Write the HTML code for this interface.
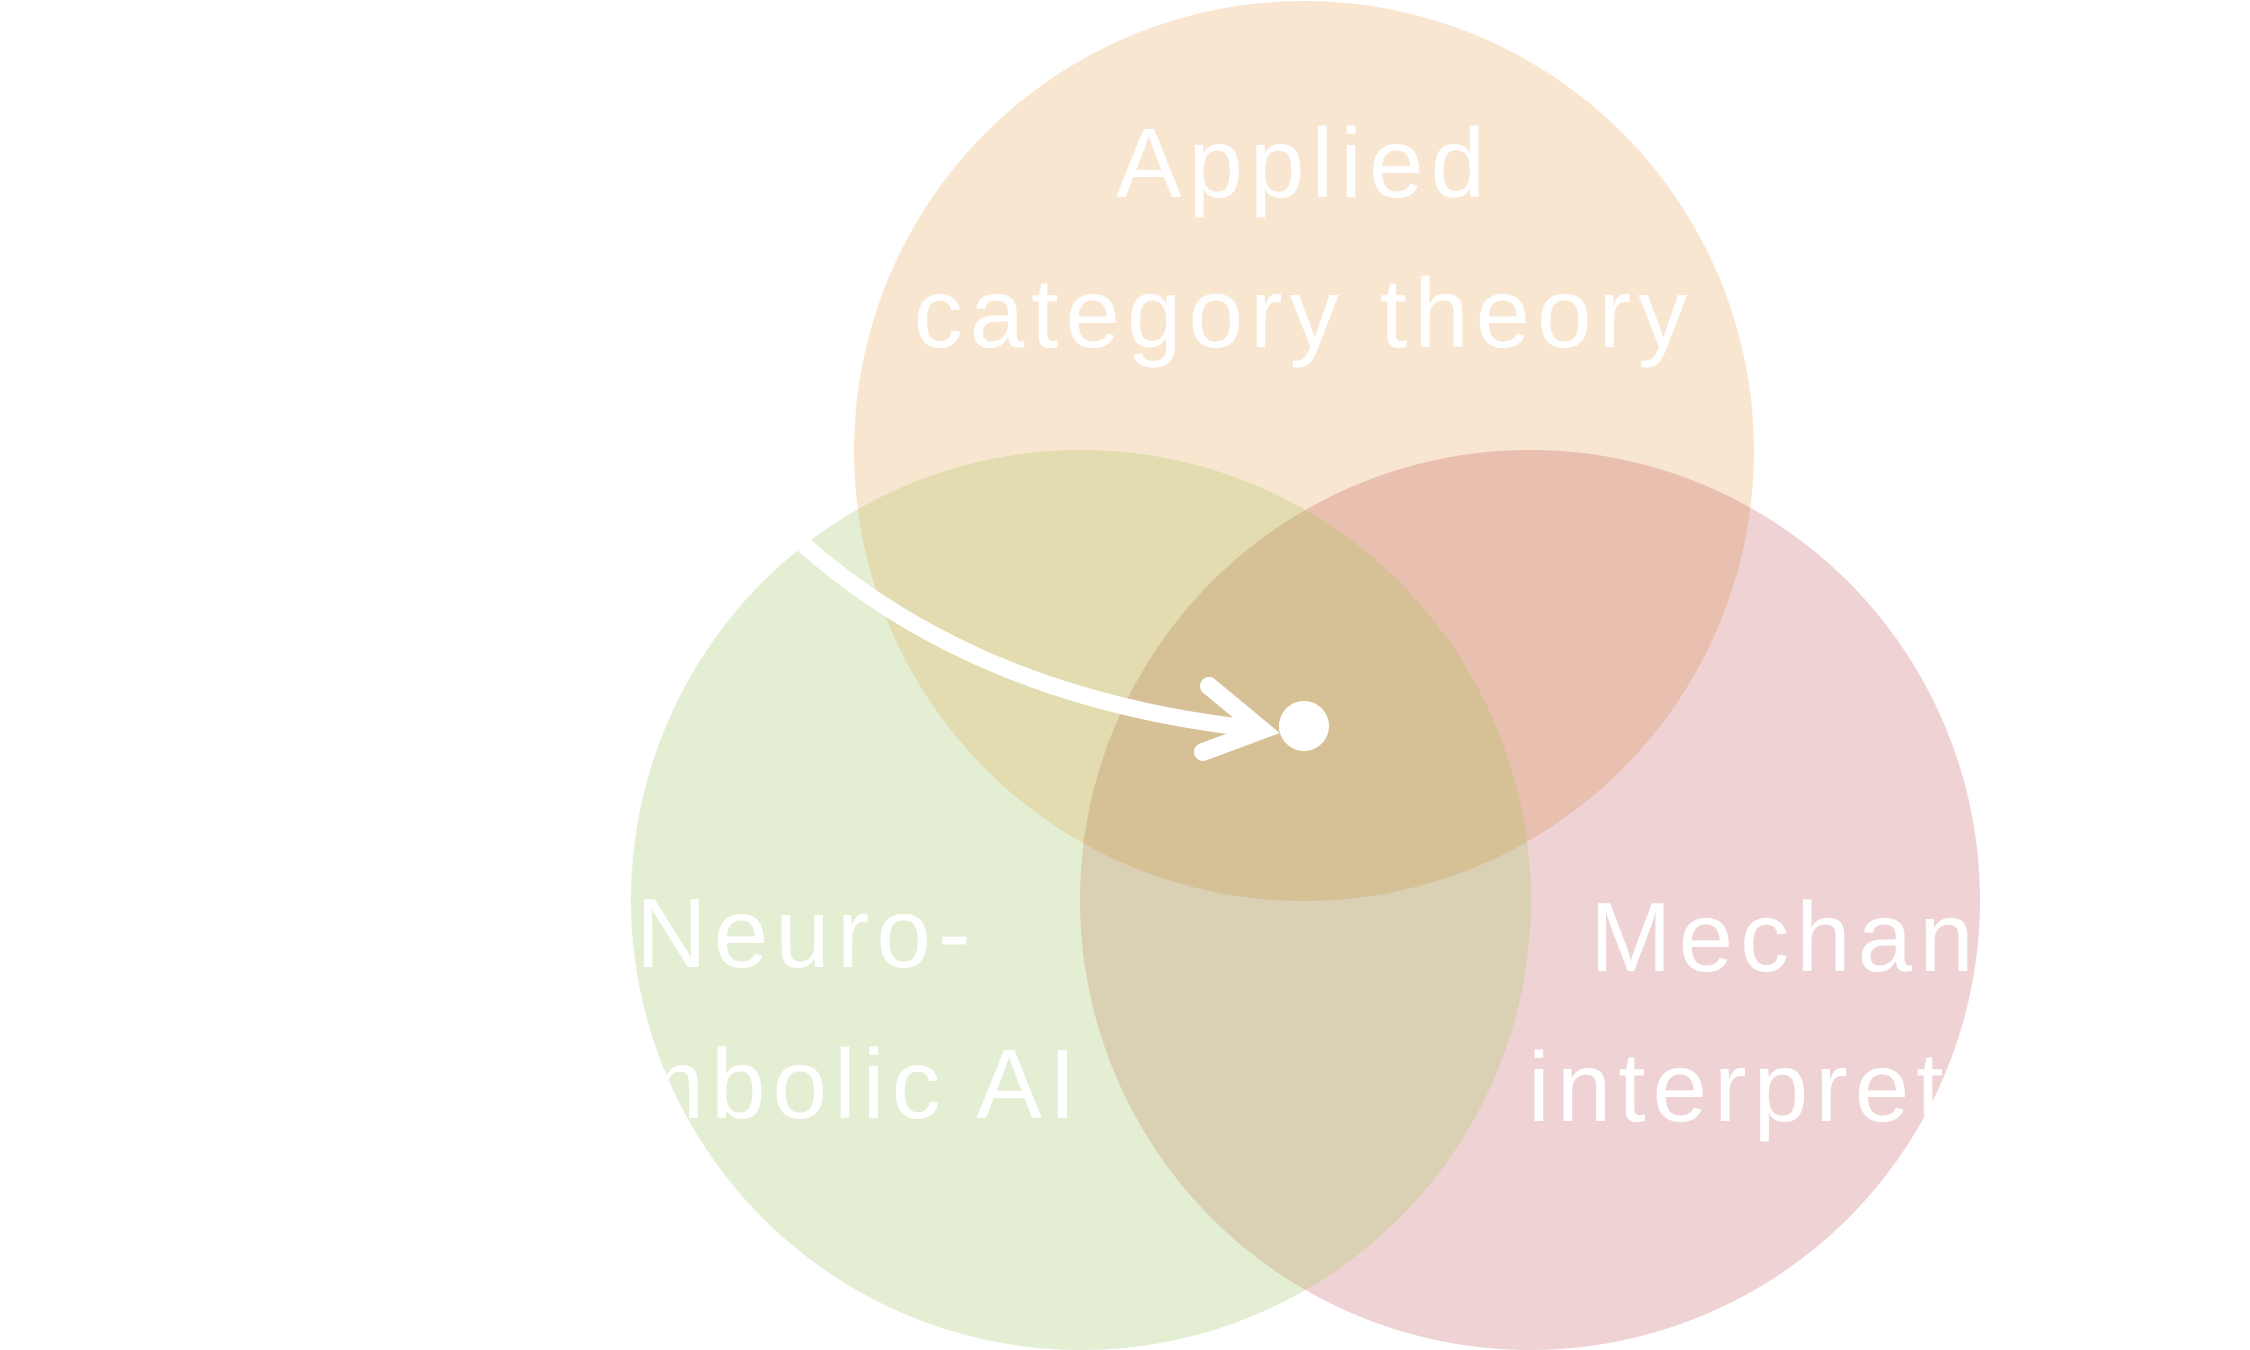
<!DOCTYPE html>
<html><head><meta charset="utf-8"><style>
html,body{margin:0;padding:0;background:#fff;width:2250px;height:1350px;overflow:hidden}
svg{display:block}
text{font-family:"Liberation Sans",sans-serif;fill:#fff;font-size:98px;letter-spacing:7px}
</style></head><body>
<svg width="2250" height="1350" viewBox="0 0 2250 1350">
<defs>
<clipPath id="cT"><circle cx="1304" cy="451" r="450"/></clipPath>
<clipPath id="cL"><circle cx="1081" cy="900" r="450"/></clipPath>
</defs>
<circle cx="1304" cy="451" r="450" fill="#F9E6D0"/>
<circle cx="1081" cy="900" r="450" fill="#E4EED3"/>
<circle cx="1530" cy="900" r="450" fill="#EFD3D4"/>
<circle cx="1081" cy="900" r="450" fill="#E2DCB0" clip-path="url(#cT)"/>
<circle cx="1530" cy="900" r="450" fill="#E9BFB0" clip-path="url(#cT)"/>
<circle cx="1530" cy="900" r="450" fill="#DAD0B3" clip-path="url(#cL)"/>
<g clip-path="url(#cL)"><circle cx="1530" cy="900" r="450" fill="#D6C096" clip-path="url(#cT)"/></g>
<text x="1304" y="197" text-anchor="middle">Applied</text>
<text x="1304" y="347" text-anchor="middle">category theory</text>
<text x="636" y="967">Neuro-</text>
<text x="1083" y="1118" text-anchor="end">Symbolic AI</text>
<text x="1590" y="971">Mechanistic</text>
<text x="1528" y="1121">interpretability</text>
<path d="M804,545 Q980,700 1258,729" fill="none" stroke="#fff" stroke-width="17"/>
<path d="M1209,686 L1262,730 L1203,752" fill="none" stroke="#fff" stroke-width="18" stroke-linecap="round" stroke-linejoin="miter"/>
<circle cx="1304" cy="726" r="25" fill="#fff"/>
</svg>
</body></html>
